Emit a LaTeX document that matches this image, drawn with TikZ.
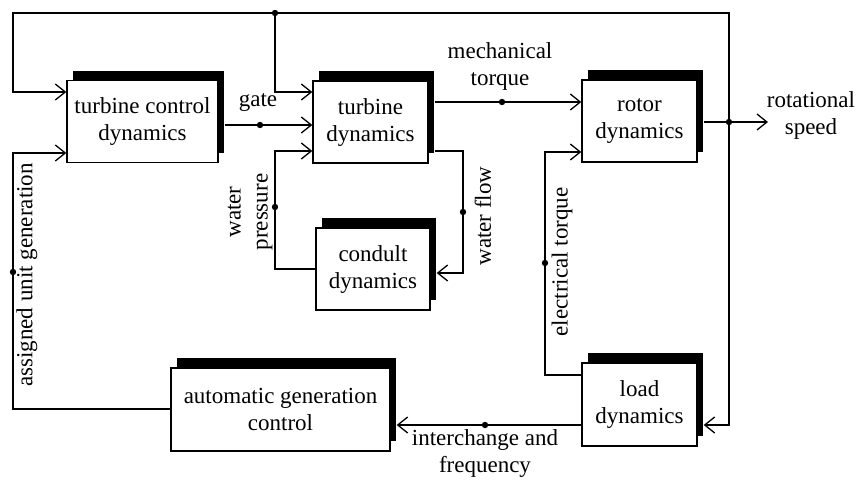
\documentclass[tikz,border=0pt]{standalone}
\usepackage{fontspec}
\setmainfont{Liberation Serif}
\usetikzlibrary{arrows.meta,shadows}

\tikzset{
  blockbox/.style={draw,fill=white,align=center,inner sep=2pt,
    drop shadow={shadow xshift=3pt,shadow yshift=5pt,fill=black,opacity=1}},
  sig/.style={->},
  lbl/.style={align=center,inner sep=0pt},
}

\begin{document}
\begin{tikzpicture}[x=0.5pt,y=-0.5pt,line width=0.65pt,>={Straight Barb[length=5pt,width=8pt]},
  font=\fontsize{11.5}{13.5}\selectfont]
  \useasboundingbox (0,0) rectangle (858,488);
  % blocks
  \node[blockbox,minimum width=75.5pt,minimum height=41pt] (tcd) at (142.5,121.5) {turbine control\\dynamics};
  \node[blockbox,minimum width=57.5pt,minimum height=41pt] (turb) at (370.5,122) {turbine\\dynamics};
  \node[blockbox,minimum width=57.5pt,minimum height=41pt] (rotor) at (639.5,121) {rotor\\dynamics};
  \node[blockbox,minimum width=57pt,minimum height=41pt] (condult) at (373,269) {condult\\dynamics};
  \node[blockbox,minimum width=57.5pt,minimum height=41.5pt] (load) at (639.5,404.5) {load\\dynamics};
  \node[blockbox,minimum width=109.5pt,minimum height=41.5pt] (agc) at (280.5,409.5) {automatic generation\\control};
  % shadow edges
  \coordinate (tcdR) at ([xshift=3pt]tcd.east);
  \coordinate (turbR) at ([xshift=3pt]turb.east);
  \coordinate (rotorR) at ([xshift=3pt]rotor.east);
  \coordinate (condultR) at ([xshift=3pt]condult.east);
  \coordinate (loadR) at ([xshift=3pt]load.east);
  \coordinate (agcR) at ([xshift=3pt]agc.east);
  % junctions
  \coordinate (fbdot) at (275,13);
  \coordinate (rsdot) at (729,122);
  \coordinate (rsend) at (768,122);
  \coordinate (gatedot) at (260,125);
  \coordinate (mtdot) at (502,102);
  \coordinate (wpdot) at (275,207);
  \coordinate (wfdot) at (463,212);
  \coordinate (etdot) at (545,263);
  \coordinate (audot) at (13,272);
  \coordinate (ifdot) at (485,425);
  % connectors
  \draw[sig] (fbdot) -- (13,13) -- (13,92) -- (tcd.west |- 0,92);
  \draw[sig] (fbdot) -- (fbdot |- 0,92) -- (turb.west |- 0,92);
  \draw (fbdot) -| (rsdot);
  \draw[sig] (rsdot) |- (loadR |- ifdot);
  \draw[sig] (tcdR |- gatedot) -- (turb.west |- gatedot);
  \draw[sig] (turbR |- mtdot) -- (rotor.west |- mtdot);
  \draw[sig] (rotorR |- rsdot) -- (rsend);
  \draw[sig] (condult.west) -| (wpdot) |- (turb.west |- 0,151);
  \draw[sig] (turbR |- 0,151) -| (wfdot) |- (condultR |- 0,273);
  \draw[sig] (load.west |- 0,375) -| (etdot) |- (rotor.west |- 0,152);
  \draw[sig] (load.west |- ifdot) -- (agcR |- ifdot);
  \draw[sig] (agc.west |- 0,409) -| (audot) |- (tcd.west |- 0,153);
  \foreach \d in {fbdot,rsdot,gatedot,mtdot,wpdot,wfdot,etdot,audot,ifdot}
    \fill (\d) circle (1.6pt);
  % labels
  \node[lbl] (gatelbl) at (258,103) {gate};
  \node[lbl] (mtlbl) at (500,66) {mechanical\\torque};
  \node[lbl] (rslbl) at (811,115) {rotational\\speed};
  \node[lbl,rotate=90] (wplbl) at (250,212) {water\\pressure};
  \node[lbl,rotate=90] (wflbl) at (483,216) {water flow};
  \node[lbl,rotate=90] (etlbl) at (562,262) {electrical torque};
  \node[lbl,rotate=90] (aulbl) at (27,275) {assigned unit generation};
  \node[lbl] (iflbl) at (485,453) {interchange and\\frequency};
\end{tikzpicture}
\end{document}
